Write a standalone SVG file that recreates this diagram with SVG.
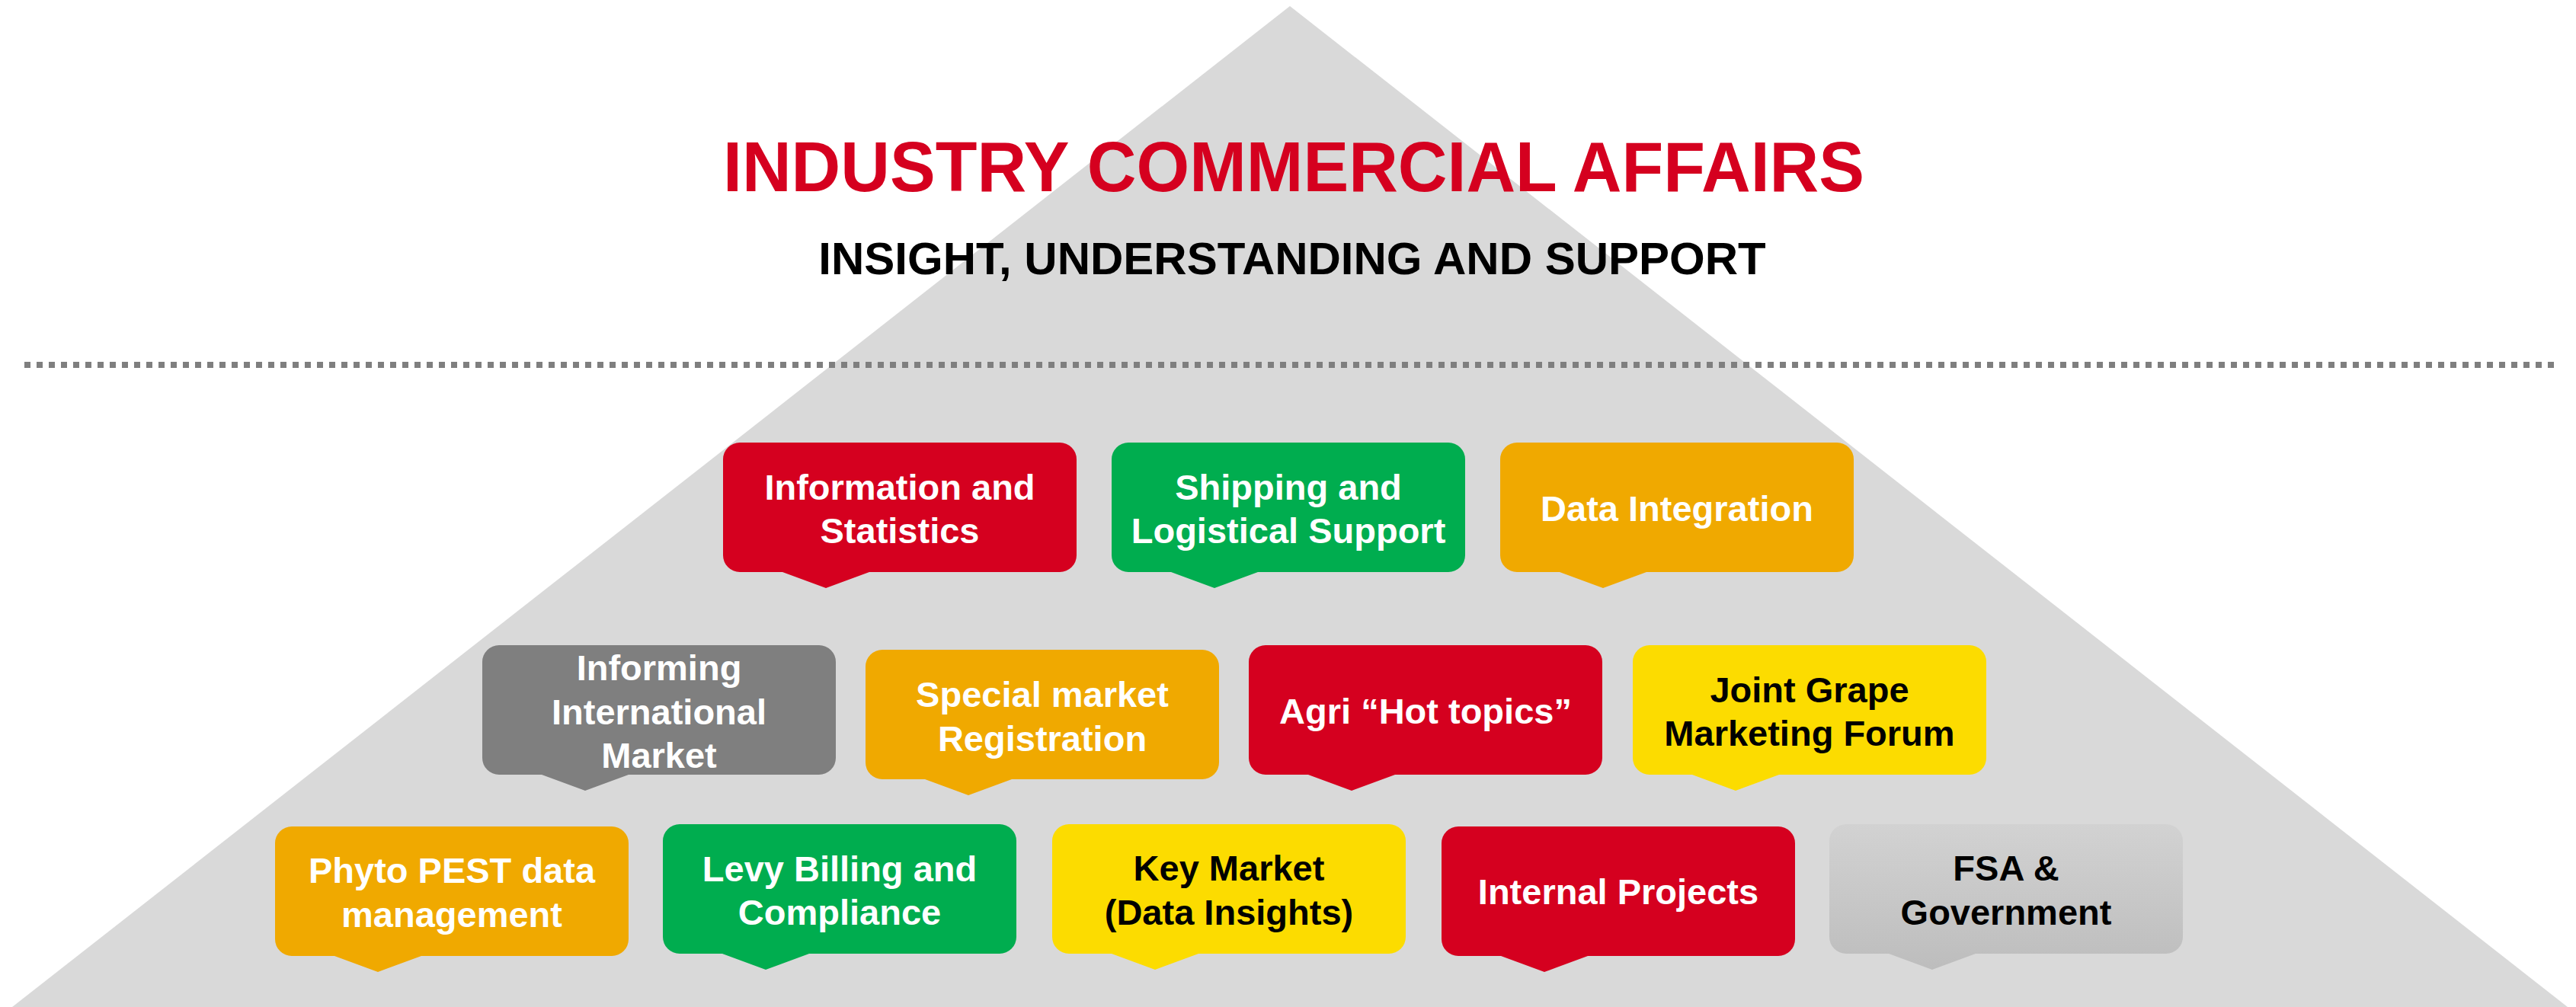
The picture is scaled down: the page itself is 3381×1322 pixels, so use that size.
<svg xmlns="http://www.w3.org/2000/svg" width="3381" height="1322" viewBox="0 0 3381 1322">
<defs>
<style>
.t{font-family:"Liberation Sans",Arial,sans-serif;font-weight:bold;font-size:47px;text-anchor:middle}
.w{fill:#ffffff}
.k{fill:#000000}
</style>
<linearGradient id="lg" x1="0" y1="0" x2="0" y2="1">
<stop offset="0" stop-color="#d2d2d2"/>
<stop offset="1" stop-color="#bdbdbd"/>
</linearGradient>
<path id="callout" d="M22 0 H442 A22 22 0 0 1 464 22 V148 A22 22 0 0 1 442 170 H192 L135 191 L78 170 H22 A22 22 0 0 1 0 148 V22 A22 22 0 0 1 22 0 Z"/>
</defs>
<rect width="3381" height="1322" fill="#ffffff"/>
<polygon id="pyramid" points="1693,8 3370,1322 16,1322" fill="#d9d9d9"/>
<g id="titles">
<text x="1698" y="251" font-family="Liberation Sans, Arial, sans-serif" font-weight="bold" font-size="93" fill="#d5001f" text-anchor="middle" textLength="1498" lengthAdjust="spacingAndGlyphs">INDUSTRY COMMERCIAL AFFAIRS</text>
<text x="1696" y="360" font-family="Liberation Sans, Arial, sans-serif" font-weight="bold" font-size="60" fill="#000000" text-anchor="middle">INSIGHT, UNDERSTANDING AND SUPPORT</text>
</g>
<g id="connectors">
<line x1="32" y1="479" x2="3356" y2="479" stroke="#7f7f7f" stroke-width="8" stroke-dasharray="8 8"/>
</g>
<g id="n-info-stats">
<use href="#callout" x="949" y="581" fill="#d5001f"/>
<text class="t w" x="1181" y="656">Information and</text>
<text class="t w" x="1181" y="713">Statistics</text>
</g>
<g id="n-shipping">
<use href="#callout" x="1459" y="581" fill="#00ad4f"/>
<text class="t w" x="1691" y="656">Shipping and</text>
<text class="t w" x="1691" y="713">Logistical Support</text>
</g>
<g id="n-data-integration">
<use href="#callout" x="1969" y="581" fill="#f0a900"/>
<text class="t w" x="2201" y="684">Data Integration</text>
</g>
<g id="n-informing">
<use href="#callout" x="633" y="847" fill="#7f7f7f"/>
<text class="t w" x="865" y="893">Informing</text>
<text class="t w" x="865" y="951">International</text>
<text class="t w" x="865" y="1008">Market</text>
</g>
<g id="n-special-market">
<use href="#callout" x="1136" y="853" fill="#f0a900"/>
<text class="t w" x="1368" y="928">Special market</text>
<text class="t w" x="1368" y="986">Registration</text>
</g>
<g id="n-agri">
<use href="#callout" x="1639" y="847" fill="#d5001f"/>
<text class="t w" x="1871" y="950">Agri “Hot topics”</text>
</g>
<g id="n-joint-grape">
<use href="#callout" x="2143" y="847" fill="#fcdc00"/>
<text class="t k" x="2375" y="922">Joint Grape</text>
<text class="t k" x="2375" y="979">Marketing Forum</text>
</g>
<g id="n-phyto">
<use href="#callout" x="361" y="1085" fill="#f0a900"/>
<text class="t w" x="593" y="1159">Phyto PEST data</text>
<text class="t w" x="593" y="1217">management</text>
</g>
<g id="n-levy">
<use href="#callout" x="870" y="1082" fill="#00ad4f"/>
<text class="t w" x="1102" y="1157">Levy Billing and</text>
<text class="t w" x="1102" y="1214">Compliance</text>
</g>
<g id="n-key-market">
<use href="#callout" x="1381" y="1082" fill="#fcdc00"/>
<text class="t k" x="1613" y="1156">Key Market</text>
<text class="t k" x="1613" y="1214">(Data Insights)</text>
</g>
<g id="n-internal">
<use href="#callout" x="1892" y="1085" fill="#d5001f"/>
<text class="t w" x="2124" y="1187">Internal Projects</text>
</g>
<g id="n-fsa">
<use href="#callout" x="2401" y="1082" fill="url(#lg)"/>
<text class="t k" x="2633" y="1156">FSA &amp;</text>
<text class="t k" x="2633" y="1214">Government</text>
</g>
</svg>
